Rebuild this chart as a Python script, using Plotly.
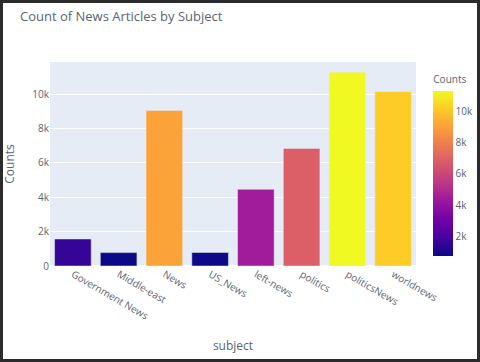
import plotly.graph_objects as go

subjects = ['Government News', 'Middle-east', 'News', 'US_News',
            'left-news', 'politics', 'politicsNews', 'worldnews']
counts = [1570, 778, 9050, 783, 4459, 6841, 11272, 10145]

W, H = 480, 362
ML, MR, MT, MB = 50, 64, 62, 96

fig = go.Figure(go.Bar(
    x=subjects,
    y=counts,
    marker=dict(color=counts, coloraxis='coloraxis'),
    showlegend=False,
))

# px-to-paper helpers for the screenshot frame
pw = W - ML - MR
ph = H - MT - MB
def px_x(p):
    return (p - ML) / pw
def px_y(p):
    return (H - MB - p) / ph

fig.add_shape(type='rect', xref='paper', yref='paper',
              x0=px_x(1.5), x1=px_x(W - 1.5), y0=px_y(H - 1.5), y1=px_y(1.5),
              line=dict(color='#2b2b2b', width=3), layer='above')

fig.update_layout(
    template='plotly',
    width=W, height=H,
    margin=dict(l=ML, r=MR, t=MT, b=MB, autoexpand=False),
    font=dict(family='Open Sans', size=10, color='#5a6470'),
    title=dict(text='Count of News Articles by Subject', x=20 / W, xanchor='left',
               y=1 - 16 / H, yanchor='middle', font=dict(size=13, color='#5a6470')),
    xaxis=dict(title=dict(text='subject', font=dict(size=12), standoff=20),
               tickangle=30, automargin=False),
    yaxis=dict(title=dict(text='Counts', font=dict(size=12)), automargin=False),
    coloraxis=dict(colorscale='Plasma',
                   colorbar=dict(title=dict(text='Counts', font=dict(size=10)),
                                 thickness=20, dtick=2000, xpad=10)),
)

# page body has an 8px default margin; drop it so the figure sits at 0,0
fig.write_html('out.html', config={'displayModeBar': False},
               post_script="document.body.style.margin='0';")
